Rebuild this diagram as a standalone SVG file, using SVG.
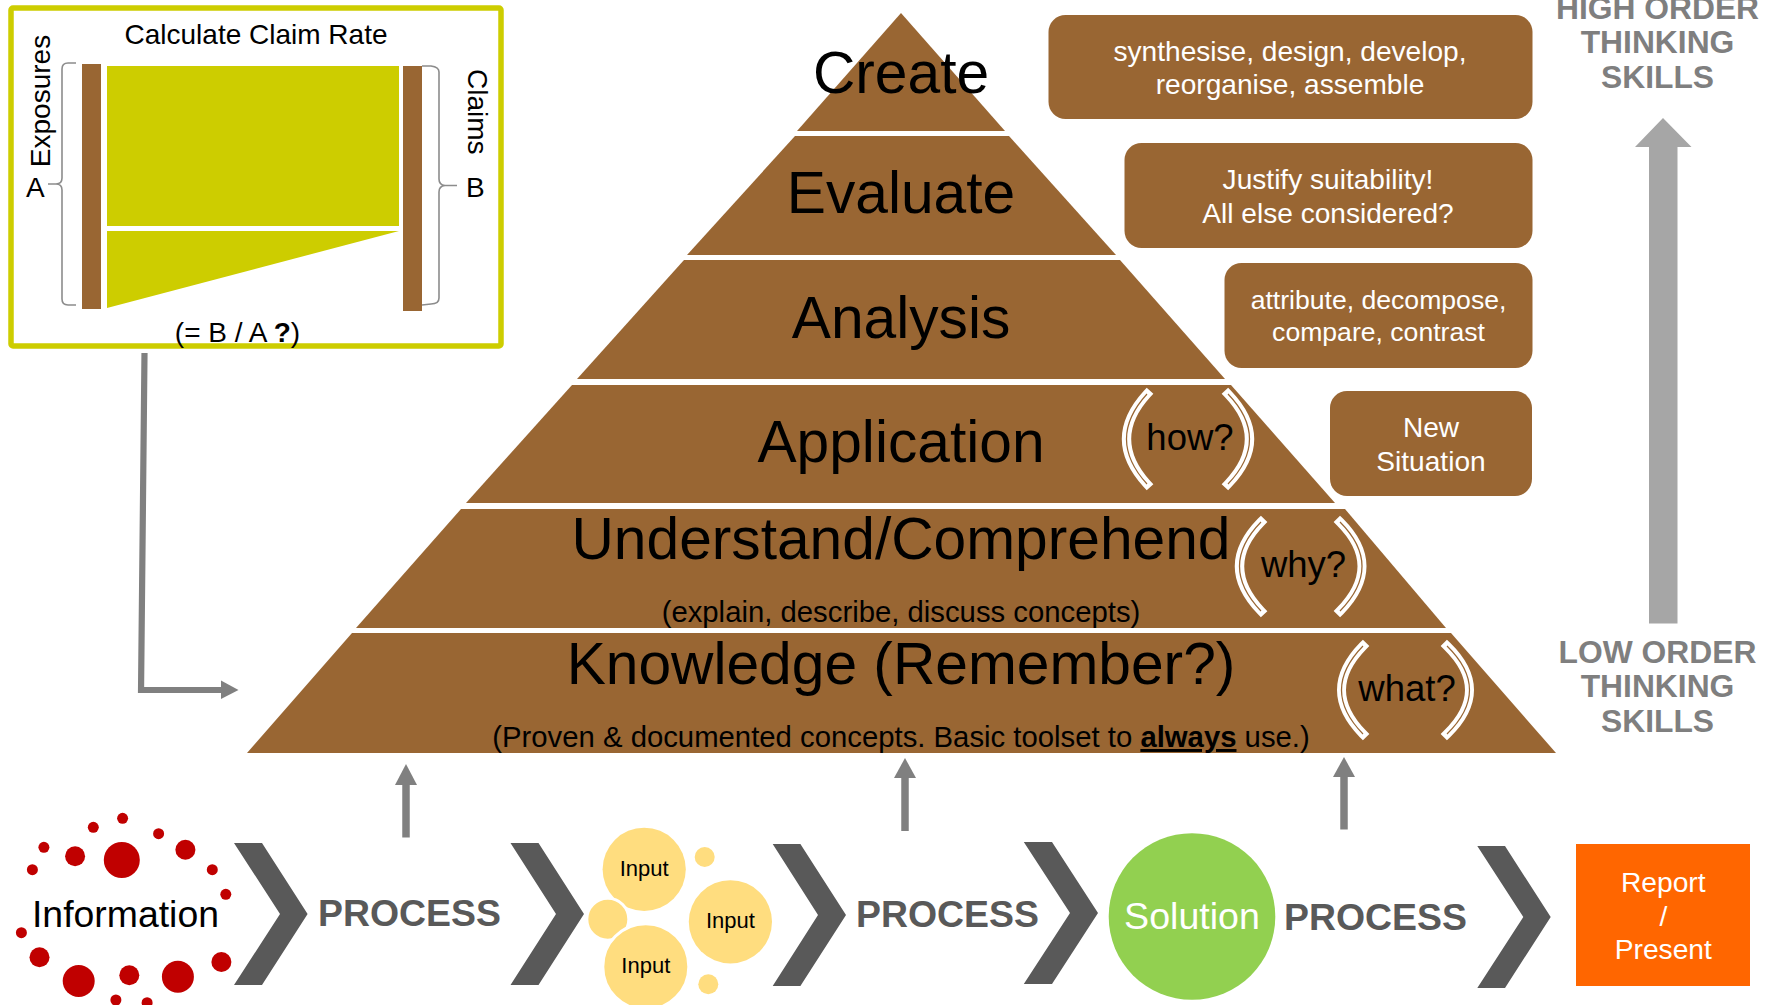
<svg xmlns="http://www.w3.org/2000/svg" width="1776" height="1005" viewBox="0 0 1776 1005">
<style>
text{font-family:"Liberation Sans",Arial,sans-serif;fill:#000}
.m{text-anchor:middle}
.tier{fill:#996633}
.t{font-size:58.700px;text-anchor:middle}
.sub{font-size:29.300px;text-anchor:middle}
.q{font-size:36.500px;text-anchor:middle}
.bw{fill:none;stroke:#fff;stroke-width:9;stroke-linecap:square}
.bb{fill:none;stroke:#996633;stroke-width:1.200}
.box{fill:#996633}
.bt{font-size:28.100px;fill:#fff;text-anchor:middle}
.bs{font-size:26.600px;fill:#fff;text-anchor:middle}
.hl{font-size:31.800px;font-weight:bold;fill:#7f7f7f;text-anchor:middle}
.pr{font-size:37.400px;font-weight:bold;fill:#595959}
.chev{fill:#595959}
.red{fill:#c00000}
.y{fill:#ffdd7f}
.halo{stroke:#fff;stroke-width:3}
.inp{font-size:22px;text-anchor:middle}
.ol{fill:#cdcd00}
.brk{fill:none;stroke:#8c8c8c;stroke-width:1.600}
.ct{font-size:28px}
.con{fill:none;stroke:#808080;stroke-width:6.200}
.stem{fill:none;stroke:#808080;stroke-width:7.500}
.arr{fill:#808080}
.rp{font-size:28.200px;fill:#fff;text-anchor:middle}
</style>
<g id="pyramid">
<g id="create"><polygon class="tier" points="901,13 1005,131 797,131"/><text class="t" x="901" y="93">Create</text></g>
<g id="evaluate"><polygon class="tier" points="795,136 1009,136 1116,255 687,255"/><text class="t" x="901" y="213">Evaluate</text></g>
<g id="analysis"><polygon class="tier" points="684,260 1120,260 1225,379 577,379"/><text class="t" x="901" y="338">Analysis</text></g>
<g id="application"><polygon class="tier" points="572,385 1231,385 1335,503 466,503"/><text class="t" x="901" y="462">Application</text></g>
<g id="understand"><polygon class="tier" points="461,509 1345,509 1446,628 356,628"/><text class="t" x="901" y="559">Understand/Comprehend</text><text class="sub" x="901" y="622">(explain, describe, discuss concepts)</text></g>
<g id="knowledge"><polygon class="tier" points="352,633 1451,633 1556,753 247,753"/><text class="t" x="901" y="683.500">Knowledge (Remember?)</text><text class="sub" x="901" y="747">(Proven &amp; documented concepts. Basic toolset to <tspan font-weight="bold" text-decoration="underline">always</tspan> use.)</text></g>
</g>
<g id="how">
<path class="bw" d="M1147 394Q1106 439 1147 484M1228 394Q1271 439 1228 484"/><path class="bb" d="M1147 394Q1106 439 1147 484M1228 394Q1271 439 1228 484"/>
<text class="q" x="1190" y="450">how?</text></g>
<g id="why">
<path class="bw" d="M1261 522Q1218 566 1261 611M1340 522Q1384 566 1340 611"/><path class="bb" d="M1261 522Q1218 566 1261 611M1340 522Q1384 566 1340 611"/>
<text class="q" x="1303.500" y="577">why?</text></g>
<g id="what">
<path class="bw" d="M1363 646Q1320 690 1363 734M1447 646Q1492 690 1447 734"/><path class="bb" d="M1363 646Q1320 690 1363 734M1447 646Q1492 690 1447 734"/>
<text class="q" x="1407" y="700.500">what?</text></g>
<g id="box-create"><rect class="box" x="1048.500" y="15" width="484" height="104" rx="17"/><text class="bt" x="1290" y="61">synthesise, design, develop,</text><text class="bt" x="1290" y="94">reorganise, assemble</text></g>
<g id="box-evaluate"><rect class="box" x="1124.500" y="143" width="408" height="105" rx="17"/><text class="bt" x="1328" y="189">Justify suitability!</text><text class="bt" x="1328" y="223">All else considered?</text></g>
<g id="box-analysis"><rect class="box" x="1224.500" y="263" width="308" height="105" rx="17"/><text class="bs" x="1378.500" y="309">attribute, decompose,</text><text class="bs" x="1378.500" y="341">compare, contrast</text></g>
<g id="box-application"><rect class="box" x="1330" y="391" width="202" height="105" rx="17"/><text class="bt" x="1431" y="437">New</text><text class="bt" x="1431" y="471">Situation</text></g>
<g id="order-labels">
<text class="hl" x="1657.500" y="18.500">HIGH ORDER</text><text class="hl" x="1657.500" y="53">THINKING</text><text class="hl" x="1657.500" y="88">SKILLS</text>
<text class="hl" x="1657.500" y="663">LOW ORDER</text><text class="hl" x="1657.500" y="697">THINKING</text><text class="hl" x="1657.500" y="732">SKILLS</text>
<polygon fill="#a6a6a6" points="1663,118 1691.500,147 1677.500,147 1677.500,623.500 1649,623.500 1649,147 1635,147"/>
</g>
<g id="claim-rate">
<rect x="11" y="8" width="490" height="338" rx="2" fill="#fff" stroke="#cdcd00" stroke-width="5.500"/>
<text class="ct m" x="256" y="44">Calculate Claim Rate</text>
<rect class="tier" x="82" y="64" width="19" height="245"/>
<rect class="tier" x="403" y="66" width="19" height="245"/>
<rect class="ol" x="107" y="66" width="292" height="160"/>
<polygon class="ol" points="107,231 399,231 107,308"/>
<path class="brk" d="M76 63H68Q62 63 62 69V178Q62 184 56 184H48M56 184Q62 184 62 190V299Q62 305 68 305H76"/>
<path class="brk" d="M422 66H431Q439 67 439 72V179Q439 185 445 185.500H457M445 185.500Q439 186 439 192V298Q439 304 431 304L422 305"/>
<text class="ct m" transform="translate(50 101) rotate(-90)">Exposures</text>
<text class="ct" transform="translate(467.500 69) rotate(90)">Claims</text>
<text class="ct" x="26" y="197">A</text>
<text class="ct" x="466" y="197">B</text>
<text class="ct m" x="237.500" y="342">(= B / A <tspan font-weight="bold">?</tspan>)</text>
</g>
<g id="connectors">
<path class="con" d="M144.500 353L141 693M141 690H222"/>
<polygon class="arr" points="238.500,690 221,680.500 221,699"/>
<path class="stem" d="M406 837.500V784"/><polygon class="arr" points="406,764 417,785 395,785"/>
<path class="stem" d="M905 831V778"/><polygon class="arr" points="905,758 916,778 894,778"/>
<path class="stem" d="M1344 829.500V776"/><polygon class="arr" points="1344,757 1355,777 1333,777"/>
</g>
<g id="chevrons">
<polygon class="chev" points="234,843 262,843 307.600,914 262,985 234,985 280,914"/>
<polygon class="chev" points="510.500,843 538.500,843 584,914 538.500,985 510.500,985 556,914"/>
<polygon class="chev" points="772.700,844 800.400,844 846,915 800.400,986 772.700,986 818,915"/>
<polygon class="chev" points="1023.800,842 1052,842 1098,913 1052,984 1023.800,984 1070,913"/>
<polygon class="chev" points="1477.300,846 1505,846 1550.700,917 1505,988 1477.300,988 1523.300,917"/>
</g>
<g id="information">
<circle class="red" cx="122.600" cy="818.300" r="5.500"/><circle class="red" cx="93.300" cy="827.300" r="5.500"/><circle class="red" cx="158.600" cy="833.700" r="5.500"/><circle class="red" cx="43.900" cy="847.300" r="5.500"/><circle class="red" cx="32.400" cy="869.700" r="5.500"/><circle class="red" cx="212.300" cy="869.700" r="5.500"/><circle class="red" cx="225.800" cy="894.300" r="5.500"/><circle class="red" cx="21.400" cy="932.700" r="5.500"/><circle class="red" cx="115.900" cy="1000" r="5.500"/><circle class="red" cx="147.100" cy="1002.700" r="5.500"/>
<circle class="red" cx="75.100" cy="856.300" r="10"/><circle class="red" cx="185.400" cy="849.700" r="10"/><circle class="red" cx="39.500" cy="957.300" r="10"/><circle class="red" cx="221.400" cy="962" r="10"/><circle class="red" cx="129.300" cy="975.300" r="10"/>
<circle class="red" cx="121.800" cy="860" r="18"/><circle class="red" cx="78.700" cy="981" r="16"/><circle class="red" cx="177.900" cy="976.700" r="16"/>
<text x="125.500" y="927" class="m" font-size="37.400">Information</text>
</g>
<g id="process-1"><text class="pr" x="318" y="926">PROCESS</text></g>
<g id="inputs">
<circle class="y" cx="644.200" cy="869.300" r="41.600"/>
<circle class="y" cx="730.400" cy="921.800" r="41.600"/>
<circle class="y halo" cx="607.800" cy="919.300" r="21"/>
<circle class="y halo" cx="645.800" cy="966.700" r="43"/>
<circle class="y" cx="704.700" cy="857" r="10"/>
<circle class="y" cx="708.300" cy="984.300" r="10"/>
<text class="inp" x="644.200" y="876">Input</text><text class="inp" x="730.400" y="928">Input</text><text class="inp" x="645.800" y="972.500">Input</text>
</g>
<g id="process-2"><text class="pr" x="856" y="927">PROCESS</text></g>
<g id="solution"><circle fill="#92d050" cx="1192" cy="916.500" r="83.300"/><text class="m" x="1192" y="929" font-size="37.600" style="fill:#fff">Solution</text></g>
<g id="process-3"><text class="pr" x="1284" y="929.500">PROCESS</text></g>
<g id="report"><rect fill="#ff6600" x="1576" y="844" width="174" height="142"/>
<text class="rp" x="1663.300" y="892">Report</text><text class="rp" x="1663.300" y="926">/</text><text class="rp" x="1663.300" y="959">Present</text></g>
</svg>
